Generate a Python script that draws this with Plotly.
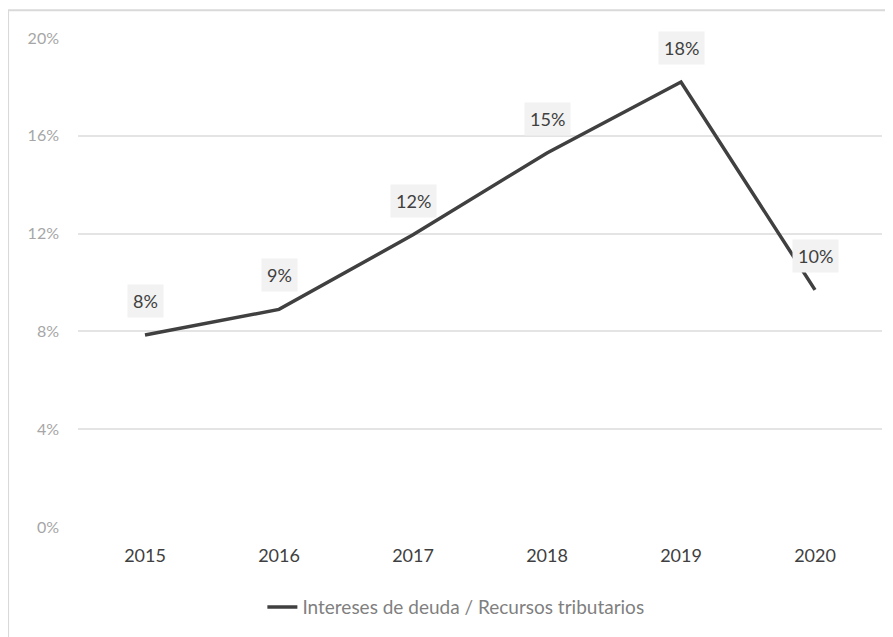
import plotly.graph_objects as go

years = ["2015", "2016", "2017", "2018", "2019", "2020"]
ratio = [7.85, 8.9, 11.95, 15.3, 18.2, 9.7]
labels = ["8%", "9%", "12%", "15%", "18%", "10%"]
series_name = "Intereses de deuda / Recursos tributarios"
y_ticks = [0, 4, 8, 12, 16, 20]
y_tick_text = ["0%", "4%", "8%", "12%", "16%", "20%"]

FONT = "Lato"

fig = go.Figure()
fig.add_trace(go.Scatter(
    x=years, y=ratio, mode="lines", name=series_name,
    line=dict(color="#404040", width=3.5),
    hoverinfo="skip",
))

for i, (yv, t) in enumerate(zip(ratio, labels)):
    fig.add_annotation(
        x=i, y=yv, xref="x", yref="y", text=t, showarrow=False,
        yanchor="middle", yshift=34,
        bgcolor="#f2f2f2", borderpad=5,
        font=dict(family=FONT, size=18, color="#404040"),
    )

# outer chart border
fig.add_shape(type="rect", xref="paper", yref="paper",
              x0=-0.087, x1=1.03, y0=-0.26, y1=1.057,
              line=dict(color="#d9d9d9", width=2), layer="below")

fig.update_layout(
    width=893, height=637,
    margin=dict(l=70, r=19, t=30, b=118),
    paper_bgcolor="white", plot_bgcolor="white",
    font=dict(family=FONT),
    showlegend=True,
    legend=dict(orientation="h", x=0.47, xanchor="center", y=-0.164, yanchor="middle",
                font=dict(family=FONT, size=19, color="#7f7f7f")),
    xaxis=dict(
        type="category", range=[-0.5, 5.5],
        showgrid=False, showline=False, zeroline=False,
        ticks="", tickfont=dict(family=FONT, size=18, color="#404040"),
        ticklabelstandoff=16,
    ),
    yaxis=dict(
        range=[0, 20], tickvals=y_ticks, ticktext=y_tick_text,
        showgrid=True, gridcolor="#e4e4e4", gridwidth=2,
        zeroline=False, showline=False, ticks="",
        tickfont=dict(family=FONT, size=16, color="#a6a6a6"),
        ticklabelstandoff=18,
    ),
)

fig.write_html("out.html")
